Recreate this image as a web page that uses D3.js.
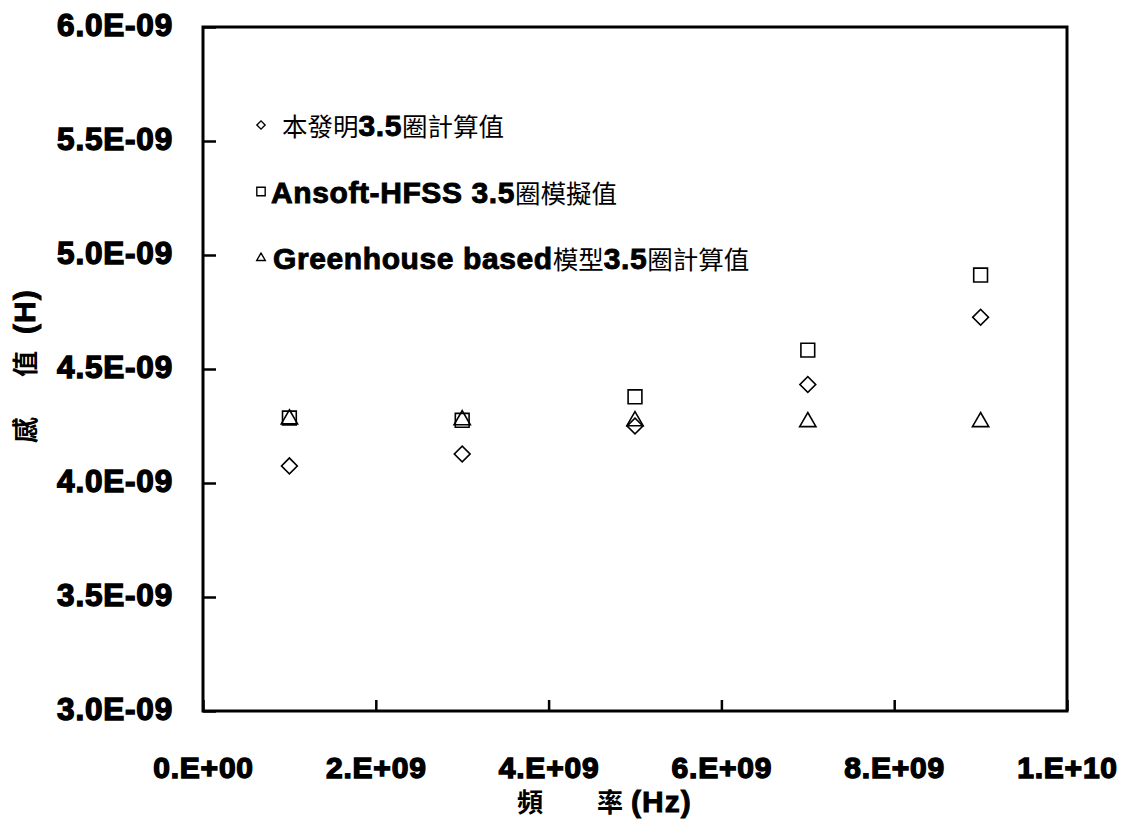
<!DOCTYPE html>
<html>
<head>
<meta charset="utf-8">
<script src="https://cdn.jsdelivr.net/npm/d3@7"></script>
<style>
  body { margin: 0; background: #fff; }
  svg { display: block; }
</style>
</head>
<body>
<div id="chart"></div>
<script>
// frequency (Hz) of each measured point
const freqs = [1e9, 3e9, 5e9, 7e9, 9e9];
// inductance values (H)
const inventionCalc = [4.075e-9, 4.127e-9, 4.25e-9, 4.432e-9, 4.727e-9];
const hfssSim = [4.285e-9, 4.275e-9, 4.378e-9, 4.583e-9, 4.912e-9];
const greenhouseCalc = [4.28e-9, 4.276e-9, 4.272e-9, 4.268e-9, 4.268e-9];

const xTicks = [0, 2e9, 4e9, 6e9, 8e9, 1e10];
const xTickLabels = ["0.E+00", "2.E+09", "4.E+09", "6.E+09", "8.E+09", "1.E+10"];
const yTicks = [3.0e-9, 3.5e-9, 4.0e-9, 4.5e-9, 5.0e-9, 5.5e-9, 6.0e-9];
const yTickLabels = ["3.0E-09", "3.5E-09", "4.0E-09", "4.5E-09", "5.0E-09", "5.5E-09", "6.0E-09"];

const width = 1126, height = 819;
const margin = { top: 27, right: 59, bottom: 108, left: 203 };
const innerW = width - margin.left - margin.right;
const innerH = height - margin.top - margin.bottom;

const cjk = "'Noto Sans CJK TC', 'Noto Sans CJK SC', sans-serif";
const lat = "'Liberation Sans', Arial, sans-serif";

const svg = d3.select("#chart").append("svg")
    .attr("width", width)
    .attr("height", height);

const g = svg.append("g")
    .attr("transform", `translate(${margin.left},${margin.top})`);

const x = d3.scaleLinear().domain([0, 1e10]).range([0, innerW]);
const y = d3.scaleLinear().domain([3e-9, 6e-9]).range([innerH, 0]);

// axes with inward ticks
const xAxis = d3.axisBottom(x)
    .tickValues(xTicks)
    .tickFormat((d, i) => xTickLabels[i])
    .tickSizeInner(-11)
    .tickSizeOuter(0)
    .tickPadding(46);

const yAxis = d3.axisLeft(y)
    .tickValues(yTicks)
    .tickFormat((d, i) => yTickLabels[i])
    .tickSizeInner(-13)
    .tickSizeOuter(0)
    .tickPadding(30);

const gx = g.append("g")
    .attr("transform", `translate(0,${innerH})`)
    .call(xAxis);
const gy = g.append("g").call(yAxis);

[gx, gy].forEach(a => {
    a.select(".domain").remove();
    a.selectAll(".tick line").attr("stroke", "#000").attr("stroke-width", 2.5);
    a.selectAll(".tick text")
        .attr("fill", "#000")
        .attr("stroke", "#000")
        .attr("stroke-width", 1.4)
        .attr("font-family", lat)
        .attr("font-weight", "bold")
        .attr("letter-spacing", 0.8);
});
gx.selectAll(".tick text").attr("font-size", 30).attr("dy", "0.71em");
gy.selectAll(".tick text").attr("font-size", 31.5).attr("dy", "0.26em");

// frame
g.append("rect")
    .attr("x", 0).attr("y", 0)
    .attr("width", innerW).attr("height", innerH)
    .attr("fill", "none")
    .attr("stroke", "#000")
    .attr("stroke-width", 3);

// markers
const diamond = d3.symbol().type(d3.symbolSquare).size(125);
const square = d3.symbol().type(d3.symbolSquare).size(190);
const tri = d3.symbol().type(d3.symbolTriangle).size(115);

function drawSeries(vals, sym, rot) {
    g.append("g").selectAll("path")
        .data(vals)
        .join("path")
        .attr("d", sym)
        .attr("transform", (d, i) => `translate(${x(freqs[i])},${y(d)}) rotate(${rot})`)
        .attr("fill", "none")
        .attr("stroke", "#000")
        .attr("stroke-width", 1.6);
}
drawSeries(hfssSim, square, 0);
drawSeries(greenhouseCalc, tri, 0);
drawSeries(inventionCalc, diamond, 45);

// legend
const legendRows = [
    { sym: d3.symbol().type(d3.symbolSquare).size(34), rot: 45,
      parts: [["本發明", false], ["3.5", true], ["圈計算值", false]], lead: 11 },
    { sym: d3.symbol().type(d3.symbolSquare).size(70), rot: 0,
      parts: [["Ansoft-HFSS 3.5", true], ["圈模擬值", false]], lead: 0 },
    { sym: d3.symbol().type(d3.symbolTriangle).size(32), rot: 0,
      parts: [["Greenhouse based", true], ["模型", false], ["3.5", true], ["圈計算值", false]], lead: 2 }
];
const legend = svg.append("g");
legendRows.forEach((row, i) => {
    const base = 136 + i * 66.5;
    legend.append("path")
        .attr("d", row.sym)
        .attr("transform", `translate(261,${base - 11}) rotate(${row.rot})`)
        .attr("fill", "none")
        .attr("stroke", "#000")
        .attr("stroke-width", 1.4);
    const t = legend.append("text")
        .attr("x", 271 + row.lead)
        .attr("y", base)
        .attr("fill", "#000");
    row.parts.forEach(([s, bold]) => {
        const ts = t.append("tspan").text(s);
        if (bold) {
            ts.attr("font-family", lat)
                .attr("font-weight", "bold")
                .attr("font-size", 30)
                .attr("letter-spacing", 0.6)
                .attr("stroke", "#000")
                .attr("stroke-width", 0.9);
        } else {
            ts.attr("font-family", cjk)
                .attr("font-size", 25.5);
        }
    });
});

// axis titles
const xt = svg.append("text")
    .attr("x", 517)
    .attr("y", 812)
    .attr("fill", "#000")
    .attr("font-weight", "bold");
xt.append("tspan").text("頻").attr("font-family", cjk).attr("font-size", 26);
xt.append("tspan").attr("x", 597).text("率").attr("font-family", cjk).attr("font-size", 26);
xt.append("tspan").attr("dx", 8).text("(Hz)")
    .attr("font-family", lat).attr("font-size", 30).attr("letter-spacing", 1)
    .attr("stroke", "#000").attr("stroke-width", 0.9);

const yt = svg.append("text")
    .attr("transform", "translate(35,443) rotate(-90)")
    .attr("fill", "#000")
    .attr("font-weight", "bold");
yt.append("tspan").text("感").attr("font-family", cjk).attr("font-size", 26);
yt.append("tspan").attr("x", 66).text("值").attr("font-family", cjk).attr("font-size", 26);
yt.append("tspan").attr("dx", 17).text("(H)")
    .attr("font-family", lat).attr("font-size", 30).attr("letter-spacing", 1)
    .attr("stroke", "#000").attr("stroke-width", 0.9);
</script>
</body>
</html>
